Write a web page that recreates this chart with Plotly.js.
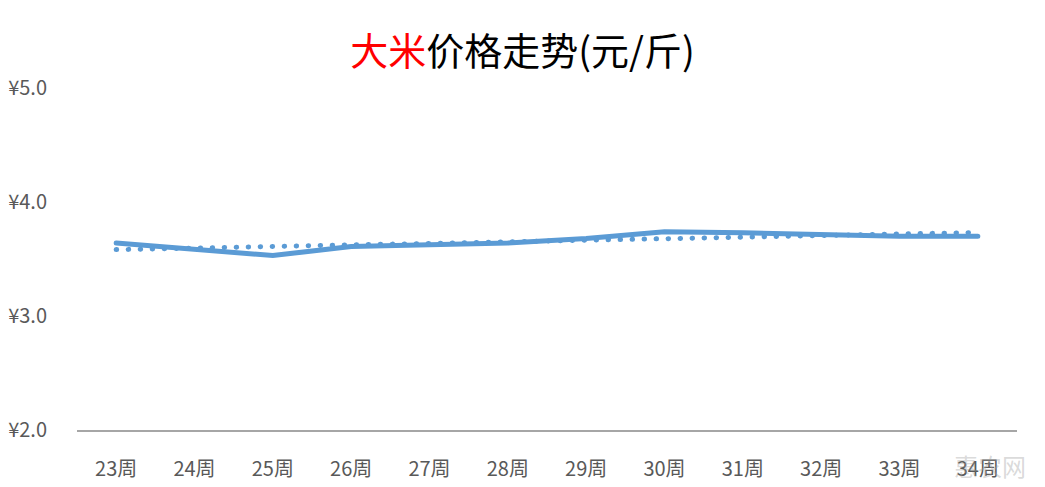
<!DOCTYPE html>
<html>
<head>
<meta charset="utf-8">
<script src="https://cdn.plot.ly/plotly-3.0.1.min.js"></script>
<style>
html,body{margin:0;padding:0;background:#fff;}
#chart .scatterlayer .js-line{stroke-linecap:round;}
</style>
</head>
<body>
<div id="chart" style="width:1045px;height:487px;"></div>
<script>
var weeks = ["23周","24周","25周","26周","27周","28周","29周","30周","31周","32周","33周","34周"];
var prices = [3.64,3.59,3.53,3.61,3.62,3.64,3.68,3.74,3.73,3.71,3.70,3.70];
var yTickVals = [2,3,4,5];
var yTickText = ["¥2.0","¥3.0","¥4.0","¥5.0"];

// linear trendline (least squares) computed from the price series
var n = prices.length, sx=0, sy=0, sxy=0, sxx=0;
for (var i=0;i<n;i++){ sx+=i; sy+=prices[i]; sxy+=i*prices[i]; sxx+=i*i; }
var slope = (n*sxy - sx*sy)/(n*sxx - sx*sx);
var icpt = (sy - slope*sx)/n;
var trend = prices.map(function(_,i){ return icpt + slope*i; });

var blue = "#5B9BD5";
var font = "'Noto Sans CJK SC', 'Noto Sans', sans-serif";

var data = [
  {x: weeks, y: prices, type:"scatter", mode:"lines", line:{color:blue, width:5}, hoverinfo:"skip"},
  {x: weeks, y: trend, type:"scatter", mode:"lines", line:{color:blue, width:5, dash:"0.5px,11.5px"}, hoverinfo:"skip"}
];

var layout = {
  width:1045, height:487,
  margin:{l:77, r:28, t:88, b:57},
  paper_bgcolor:"#fff", plot_bgcolor:"#fff",
  showlegend:false,
  font:{family:font, color:"#595959", size:20},
  title:{text:'<span style="color:#FF0000">大米</span>价格走势(元/斤)', x:0.5, xanchor:"center", y:0.893, yanchor:"middle",
         font:{family:font, size:38, color:"#000"}},
  xaxis:{type:"category", range:[-0.5, 11.5], showgrid:false, zeroline:false, showline:true, linecolor:"#A6A6A6", linewidth:1.5,
         ticks:"", ticklabelstandoff:20, tickfont:{size:20, color:"#595959", family:font}, fixedrange:true},
  yaxis:{range:[2,5], tickvals:yTickVals, ticktext:yTickText, showgrid:false, zeroline:false, showline:false,
         ticks:"", ticklabelstandoff:29, tickfont:{size:20, color:"#595959", family:font}, fixedrange:true},
  annotations:[
    {text:"惠农网", xref:"paper", yref:"paper", x:1.012, y:-0.105, xanchor:"right", yanchor:"middle", showarrow:false,
     font:{family:font, size:24, color:"rgba(160,160,160,0.4)"}}
  ]
};

Plotly.newPlot("chart", data, layout, {displayModeBar:false, staticPlot:true});
</script>
</body>
</html>
